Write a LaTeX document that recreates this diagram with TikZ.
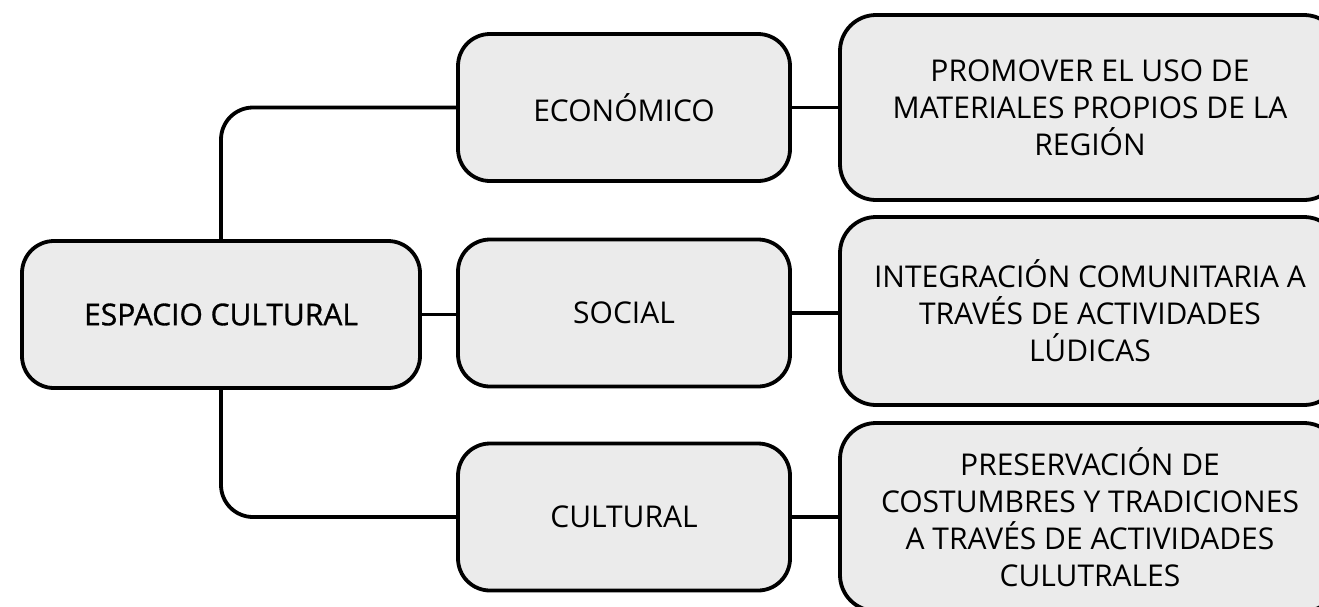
\documentclass[tikz,border=0pt]{standalone}
\usepackage{fontspec}
\setmainfont{Open Sans}
\newfontfamily\titlefont{Open Sans}[FakeBold=1]
\begin{document}
\begin{tikzpicture}[x=1pt,y=-1pt,
  box/.style={draw=black,line width=3.8pt,fill=boxgray,rounded corners=32pt,
    align=center,font=\fontsize{30}{37}\selectfont,inner sep=0pt},
  link/.style={line width=3.8pt}]
\definecolor{boxgray}{HTML}{EBEBEB}
\clip (0,0) rectangle (1319,606);
\useasboundingbox (0,0) rectangle (1319,606);
\node[box,minimum width=398pt,minimum height=147pt,font=\fontsize{30}{37}\titlefont] (L) at (221,314.5) {ESPACIO CULTURAL};
\node[box,minimum width=332pt,minimum height=147pt] (E) at (624,107.5) {ECONÓMICO};
\node[box,minimum width=332pt,minimum height=147pt] (S) at (624,313) {SOCIAL};
\node[box,minimum width=332pt,minimum height=147pt] (C) at (624,517) {CULTURAL};
\node[box,minimum width=500pt,minimum height=185pt,rounded corners=36pt] (R1) at (1090,107.5) {PROMOVER EL USO DE\\MATERIALES PROPIOS DE LA\\REGIÓN};
\node[box,minimum width=500pt,minimum height=188pt,rounded corners=36pt] (R2) at (1090,311) {INTEGRACIÓN COMUNITARIA A\\TRAVÉS DE ACTIVIDADES\\LÚDICAS};
\node[box,minimum width=500pt,minimum height=188pt,rounded corners=36pt] (R3) at (1090,517) {PRESERVACIÓN DE\\COSTUMBRES Y TRADICIONES\\A TRAVÉS DE ACTIVIDADES\\CULUTRALES};
\draw[link,rounded corners=32pt] (L.north) |- (E.west);
\draw[link,rounded corners=32pt] (L.south) |- (C.west);
\draw[link] (L.east) -- (L.east -| S.west);
\draw[link] (E.east) -- (E.east -| R1.west);
\draw[link] (S.east) -- (S.east -| R2.west);
\draw[link] (C.east) -- (C.east -| R3.west);
\end{tikzpicture}
\end{document}
